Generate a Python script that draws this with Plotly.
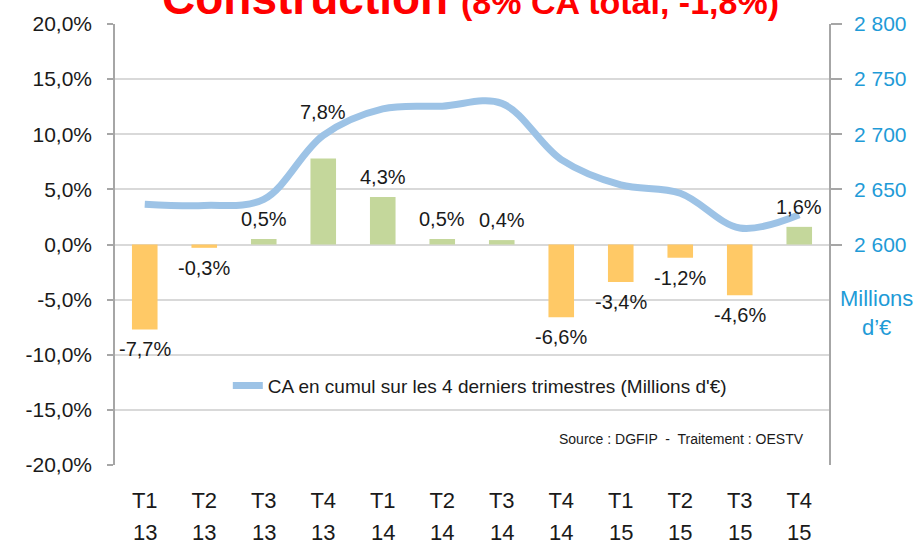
import plotly.graph_objects as go

quarters = ["T1", "T2", "T3", "T4", "T1", "T2", "T3", "T4", "T1", "T2", "T3", "T4"]
years = ["13", "13", "13", "13", "14", "14", "14", "14", "15", "15", "15", "15"]
categories = [f"{q} {y}" for q, y in zip(quarters, years)]
growth_pct = [-7.7, -0.3, 0.5, 7.8, 4.3, 0.5, 0.4, -6.6, -3.4, -1.2, -4.6, 1.6]
ca_cumul = [2636.6, 2635.4, 2641, 2699, 2723, 2725.5, 2728, 2677, 2654, 2646.5, 2615, 2627]

left_ticks = [-20, -15, -10, -5, 0, 5, 10, 15, 20]
left_ticklabels = ["-20,0%", "-15,0%", "-10,0%", "-5,0%", "0,0%", "5,0%", "10,0%", "15,0%", "20,0%"]
right_ticks = [2600, 2650, 2700, 2750, 2800]
right_ticklabels = ["2 600", "2 650", "2 700", "2 750", "2 800"]

ORANGE = "#FFC966"
GREEN = "#C4D79B"
LINE = "#9DC3E6"
BLUE = "#1F9BD7"
AXIS = "#A6A6A6"
GRID = "#D9D9D9"
TXT = "#1A1A1A"
ARIAL = "Liberation Sans, Arial, sans-serif"
NARROW = "Liberation Sans Narrow, Liberation Sans, Arial, sans-serif"

bar_colors = [GREEN if v >= 0 else ORANGE for v in growth_pct]
n = len(categories)

fig = go.Figure()
fig.add_trace(go.Bar(
    x=categories, y=growth_pct, marker=dict(color=bar_colors, line=dict(width=0)),
    width=0.43, showlegend=False, hoverinfo="skip", yaxis="y", xaxis="x"))
fig.add_trace(go.Scatter(
    x=categories, y=ca_cumul, mode="lines", yaxis="y2", xaxis="x",
    line=dict(color=LINE, width=7, shape="spline", smoothing=1.0),
    name="CA en cumul sur les 4 derniers trimestres (Millions d'€)"))

# data labels
label_shift_override = {3: 47}
for i, (c, v) in enumerate(zip(categories, growth_pct)):
    s = label_shift_override.get(i, 20)
    txt = f"{v:.1f}%".replace(".", ",")
    fig.add_annotation(x=c, y=v, xref="x", yref="y", text=txt, showarrow=False,
                       yanchor="middle", yshift=s if v >= 0 else -s,
                       font=dict(family=ARIAL, size=20, color=TXT))

# second line of category labels (year)
for c, yr in zip(categories, years):
    fig.add_annotation(x=c, y=0, xref="x", yref="paper", text=yr, showarrow=False,
                       yanchor="middle", yshift=-67,
                       font=dict(family=ARIAL, size=22, color=TXT))

fig.update_layout(
    width=923, height=544,
    margin=dict(l=115, r=94, t=20, b=79),
    paper_bgcolor="white", plot_bgcolor="white",
    xaxis=dict(type="category", categoryorder="array", categoryarray=categories,
               tickmode="array", tickvals=categories, ticktext=quarters,
               range=[-0.5, n - 0.5], showgrid=False, showline=False, ticks="",
               tickfont=dict(family=ARIAL, size=22, color=TXT), ticklabelstandoff=20),
    xaxis2=dict(overlaying="x", anchor="free", position=0.5, range=[-0.5, n - 0.5],
                showline=True, linecolor=AXIS, linewidth=1.5, ticks="outside", ticklen=6,
                tickcolor=AXIS, tickwidth=1.5, tickmode="array",
                tickvals=[k + 0.5 for k in range(-1, n)], showticklabels=False,
                showgrid=False, zeroline=False),
    yaxis=dict(range=[-20, 20], tickmode="array", tickvals=left_ticks, ticktext=left_ticklabels,
               showline=True, linecolor=AXIS, linewidth=1.5, ticks="outside", ticklen=6,
               tickcolor=AXIS, tickwidth=1.5, showgrid=True, gridcolor=GRID, gridwidth=1.5,
               zeroline=False, tickfont=dict(family=ARIAL, size=21, color=TXT),
               ticklabelstandoff=11),
    yaxis2=dict(range=[2400, 2800], overlaying="y", side="right", tickmode="array",
                tickvals=right_ticks, ticktext=right_ticklabels, showline=True,
                linecolor=AXIS, linewidth=1.5,
                ticks="outside", ticklen=11, tickcolor=AXIS, tickwidth=1.5, showgrid=False,
                zeroline=False, tickfont=dict(family=ARIAL, size=21, color=BLUE),
                ticklabelstandoff=8),
    legend=dict(x=0.158, y=0.18, xanchor="left", yanchor="middle", bgcolor="rgba(0,0,0,0)",
                font=dict(family=NARROW, size=19, color=TXT)),
    showlegend=True,
)

fig.add_annotation(xref="paper", yref="paper", x=0.498, y=1.0, yanchor="bottom", yshift=-2,
                   showarrow=False,
                   text="<b>Construction</b> <b><span style='font-size:34px'>(8% CA total, -1,8%)</span></b>",
                   font=dict(family=NARROW, size=46, color="#FF0000"))
fig.add_annotation(xref="paper", yref="paper", x=0.968, y=0.06, xanchor="right", yanchor="middle",
                   showarrow=False, text="Source : DGFIP  -  Traitement : OESTV",
                   font=dict(family=NARROW, size=14, color=TXT))
fig.add_annotation(xref="paper", yref="paper", x=1.067, y=0.345, xanchor="center", yanchor="middle",
                   showarrow=False, text="Millions<br>d’€", align="center",
                   font=dict(family=ARIAL, size=22, color=BLUE))

fig.write_html("out.html", config={"displayModeBar": False},
               post_script="document.body.style.margin='0px';")
